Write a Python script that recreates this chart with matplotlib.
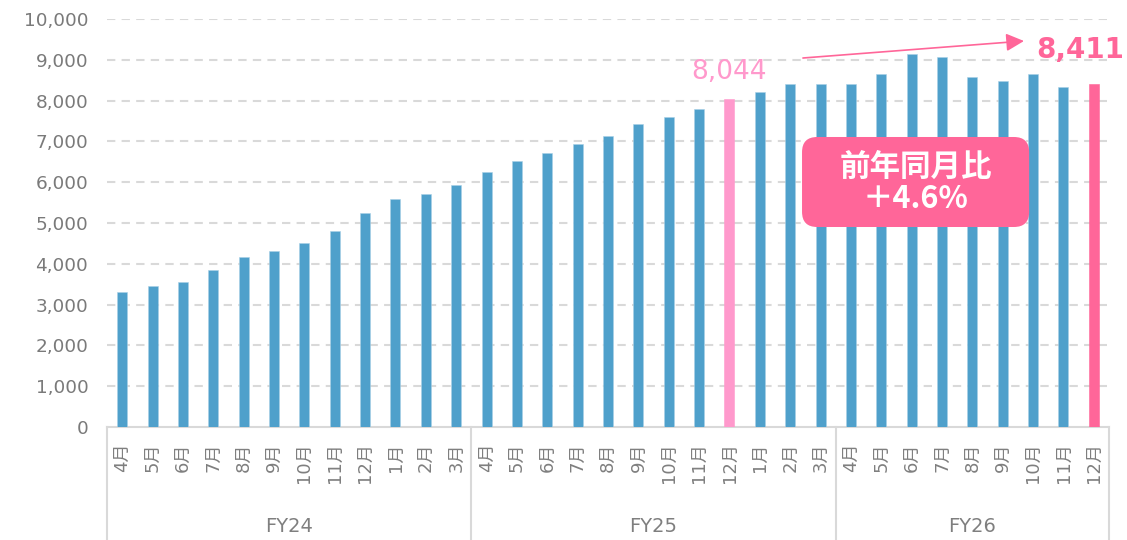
import matplotlib
matplotlib.use("Agg")
import matplotlib.pyplot as plt
from matplotlib.patches import FancyBboxPatch
from matplotlib.ticker import FuncFormatter

plt.rcParams['font.family'] = ['DejaVu Sans', 'Noto Sans CJK JP']

fiscal_years = ["FY24", "FY25", "FY26"]
months_full = ["4月", "5月", "6月", "7月", "8月", "9月", "10月", "11月", "12月", "1月", "2月", "3月"]
months_fy26 = ["4月", "5月", "6月", "7月", "8月", "9月", "10月", "11月", "12月"]
values_fy24 = [3300, 3456, 3546, 3848, 4159, 4306, 4518, 4804, 5245, 5580, 5711, 5931]
values_fy25 = [6242, 6511, 6716, 6928, 7132, 7426, 7590, 7786, 8044, 8211, 8399, 8399]
values_fy26 = [8399, 8644, 9142, 9069, 8578, 8480, 8644, 8342, 8411]
yoy_text = "前年同月比\n＋4.6%"

labels = months_full + months_full + months_fy26
values = values_fy24 + values_fy25 + values_fy26
group_sizes = [len(values_fy24), len(values_fy25), len(values_fy26)]

BLUE = "#4fa0cb"
LIGHT_PINK = "#ff99cc"
PINK = "#ff6699"
GREY_TXT = "#7f7f7f"

colors = [BLUE] * len(values)
hl_prev = len(values_fy24) + 8
hl_cur = len(values) - 1
colors[hl_prev] = LIGHT_PINK
colors[hl_cur] = PINK

fig = plt.figure(figsize=(11.27, 5.40), dpi=100)
ax = fig.add_axes([107 / 1127, 113 / 540, (1109 - 107) / 1127, (427 - 19) / 540])

x = list(range(len(values)))
ax.bar(x, values, width=0.33, color=colors, edgecolor="#a9d0e6", linewidth=0.4, zorder=3)
for i in (hl_prev, hl_cur):
    ax.patches[i].set_edgecolor(colors[i])

ax.set_xlim(-0.5, len(values) - 0.5)
ax.set_ylim(0, 10000)
ax.set_yticks(range(0, 10001, 1000))
ax.yaxis.set_major_formatter(FuncFormatter(lambda v, p: f"{int(v):,}"))
ax.tick_params(axis="y", length=0, pad=13.5, labelsize=13.3, labelcolor="#7a7a7a")
ax.set_xticks(x)
ax.set_xticklabels(labels, rotation=90, fontsize=13, color=GREY_TXT)
ax.tick_params(axis="x", length=0, pad=11)

for yv in range(1000, 10001, 1000):
    ax.axhline(yv, color="#d9d9d9", lw=1.5, ls=(0, (4, 3)), zorder=1)

for s in ("top", "right", "left"):
    ax.spines[s].set_visible(False)
ax.spines["bottom"].set_color("#d9d9d9")
ax.spines["bottom"].set_linewidth(1.5)

# group separators and labels
start = 0
bounds = [-0.5]
for g in group_sizes:
    start += g
    bounds.append(start - 0.5)
trans = ax.get_xaxis_transform()
for b in bounds:
    ax.plot([b, b], [0, -113 / 408], transform=trans, color="#d9d9d9", lw=1.5, clip_on=False)
for i, fy in enumerate(fiscal_years):
    cx = (bounds[i] + bounds[i + 1]) / 2
    ax.text(cx, -100 / 408, fy, transform=trans, ha="center", va="center",
            fontsize=14, color=GREY_TXT)

# annotations
ax.text(hl_prev, values[hl_prev] + 350, f"{values[hl_prev]:,}", ha="center", va="bottom",
        fontsize=19, color=LIGHT_PINK, zorder=5)
ax.text(hl_cur - 0.45, 9230, f"{values[hl_cur]:,}", ha="center", va="center",
        fontsize=20, color=PINK, fontweight="bold", zorder=5)
ax.annotate("", xy=(hl_cur - 2.3, 9461), xytext=(hl_prev + 2.42, 9044),
            arrowprops=dict(arrowstyle="-|>,head_length=1.08,head_width=0.54",
                            color=PINK, lw=1.2, shrinkA=0, shrinkB=0), zorder=5)

px_x = 1002 / len(values)      # pixels per x unit
px_y = 408 / 10000             # pixels per y unit
box_x0, box_w = hl_prev + 2.39, 7.48
box_y0, box_h = 4902, 2206
box = FancyBboxPatch((box_x0, box_y0), box_w, box_h,
                     boxstyle="round,pad=0,rounding_size=0.5",
                     mutation_aspect=px_x / px_y,
                     facecolor=PINK, edgecolor="none", zorder=6)
ax.add_patch(box)
ax.text(box_x0 + box_w / 2, box_y0 + box_h / 2 - 30, yoy_text, ha="center", va="center",
        color="white", family=['Noto Sans CJK JP', 'DejaVu Sans'],
        fontsize=22, fontweight="bold", linespacing=1.0, zorder=7)

fig.savefig("out.png", dpi=100)
